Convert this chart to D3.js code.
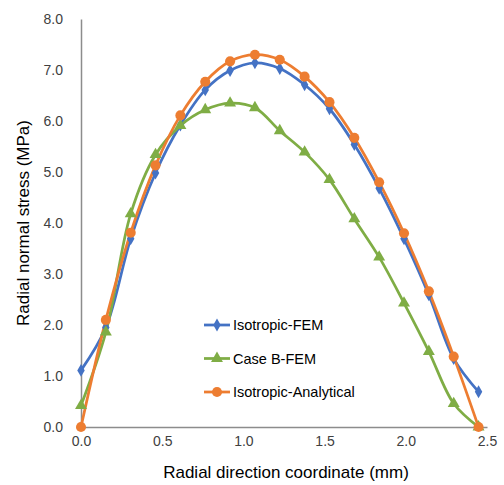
<!DOCTYPE html>
<html>
<head>
<meta charset="utf-8">
<script src="https://cdn.jsdelivr.net/npm/d3@7"></script>
<style>
  body { margin: 0; background: #fff; }
  text { font-family: Arial, "Liberation Sans", sans-serif; }
</style>
</head>
<body>
<div id="visual"></div>
<script>
// radial coordinate (mm)
const xValues = [0, 0.153, 0.306, 0.459, 0.612, 0.765, 0.918, 1.071, 1.224,
                 1.377, 1.530, 1.683, 1.836, 1.989, 2.142, 2.295, 2.448];
const isoFEM = [1.11, 1.95, 3.69, 4.98, 5.92, 6.61, 6.99, 7.14, 7.03,
                6.71, 6.24, 5.54, 4.68, 3.69, 2.59, 1.34, 0.69];
const caseB = [0.42, 1.86, 4.18, 5.34, 5.91, 6.22, 6.35, 6.26, 5.81,
               5.39, 4.85, 4.08, 3.33, 2.43, 1.48, 0.46, 0.0];
const isoAnalytical = [0.0, 2.10, 3.81, 5.13, 6.11, 6.77, 7.17, 7.30, 7.20,
                       6.87, 6.37, 5.67, 4.80, 3.80, 2.66, 1.38, 0.0];
const seriesNames = ["Isotropic-FEM", "Case B-FEM", "Isotropic-Analytical"];
const xTicks = [0, 0.5, 1.0, 1.5, 2.0, 2.5];
const yTicks = [0, 1, 2, 3, 4, 5, 6, 7, 8];

const COLORS = ["#4472C4", "#7FAD45", "#ED7D31"];
const SYMBOLS = [d3.symbolDiamond, d3.symbolTriangle, d3.symbolCircle];
const SIZES = [48, 62, 80];

let width = 504, height = 485;
let margin = {left: 81, right: 17, top: 19, bottom: 58};

let x = d3.scaleLinear().domain([0, 2.5]).range([margin.left, width - margin.right]);
let y = d3.scaleLinear().domain([0, 8]).range([height - margin.bottom, margin.top]);

let svg = d3.select("#visual")
    .append("svg")
    .attr("width", width)
    .attr("height", height);

// axes
let xAxis = svg.append("g")
    .attr("transform", "translate(0," + y(0) + ")")
    .call(d3.axisBottom(x).tickValues(xTicks).tickSize(0).tickPadding(9)
        .tickFormat(d3.format(".1f")));
let yAxis = svg.append("g")
    .attr("transform", "translate(" + x(0) + ",0)")
    .call(d3.axisLeft(y).tickValues(yTicks).tickSize(0).tickPadding(18)
        .tickFormat(d3.format(".1f")));

[xAxis, yAxis].forEach(function (g) {
    g.select(".domain").attr("stroke", "#8c8c8c").attr("stroke-width", 1.5);
    g.selectAll("text")
        .style("font-size", "14px")
        .style("fill", "#404040");
});

// axis titles
svg.append("text")
    .attr("x", (x(0) + x(2.5)) / 2 + 2)
    .attr("y", 478)
    .attr("text-anchor", "middle")
    .style("font-size", "17px")
    .style("fill", "#000")
    .text("Radial direction coordinate (mm)");

svg.append("text")
    .attr("transform", "translate(29," + 223 + ") rotate(-90)")
    .attr("text-anchor", "middle")
    .style("font-size", "17px")
    .style("fill", "#000")
    .text("Radial normal stress (MPa)");

// series
let allSeries = [isoFEM, caseB, isoAnalytical];
let line = d3.line()
    .x(function (d, i) { return x(xValues[i]); })
    .y(function (d) { return y(d); })
    .curve(d3.curveCatmullRom.alpha(0.5));

allSeries.forEach(function (vals, k) {
    svg.append("path")
        .datum(vals)
        .attr("fill", "none")
        .attr("stroke", COLORS[k])
        .attr("stroke-width", 2.75)
        .attr("d", line);
});

allSeries.forEach(function (vals, k) {
    svg.selectAll(".m" + k)
        .data(vals)
        .enter().append("path")
        .attr("class", "m" + k)
        .attr("transform", function (d, i) {
            return "translate(" + x(xValues[i]) + "," + y(d) + ")";
        })
        .attr("d", d3.symbol().type(SYMBOLS[k]).size(SIZES[k]))
        .attr("fill", COLORS[k]);
});

// legend
let legend = svg.append("g").attr("transform", "translate(204,325)");
seriesNames.forEach(function (name, k) {
    let row = legend.append("g").attr("transform", "translate(0," + k * 33.5 + ")");
    row.append("line")
        .attr("x1", 0).attr("x2", 26)
        .attr("stroke", COLORS[k]).attr("stroke-width", 2.75);
    row.append("path")
        .attr("transform", "translate(13,0)")
        .attr("d", d3.symbol().type(SYMBOLS[k]).size(SIZES[k]))
        .attr("fill", COLORS[k]);
    row.append("text")
        .attr("x", 29)
        .attr("y", 5)
        .style("font-size", "14.5px")
        .style("fill", "#000")
        .text(name);
});
</script>
</body>
</html>
